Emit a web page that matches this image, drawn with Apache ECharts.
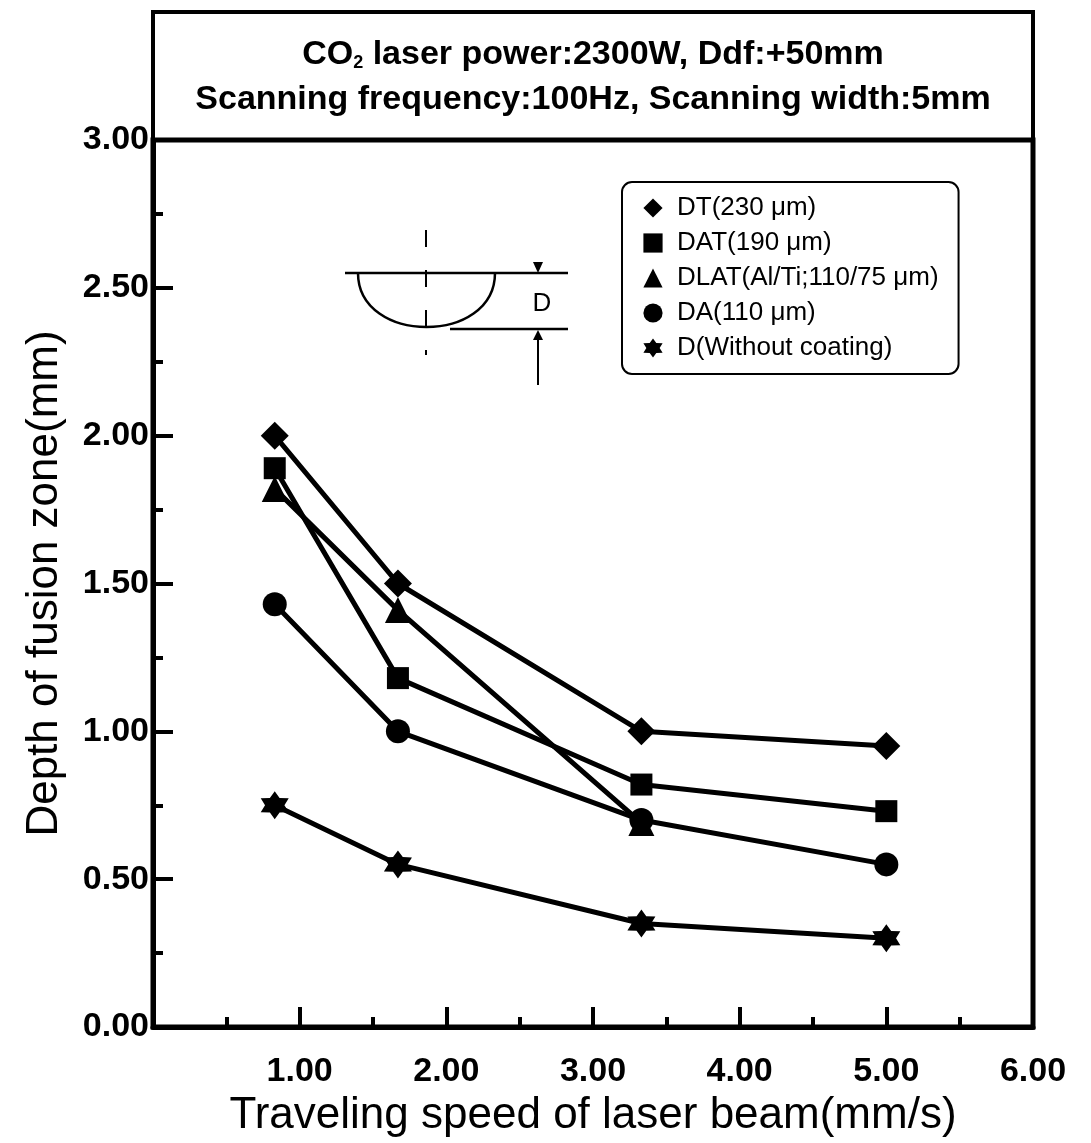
<!DOCTYPE html>
<html>
<head>
<meta charset="utf-8">
<script src="https://cdn.jsdelivr.net/npm/echarts@6/dist/echarts.min.js"></script>
<style>
html, body { margin: 0; padding: 0; background: #fff; }
#chart { width: 1091px; height: 1143px; }
</style>
</head>
<body>
<div id="chart"></div>
<script>
// 数据
var speeds = [0.83, 1.67, 3.33, 5.00];
var dtVals = [2.00, 1.50, 1.00, 0.95];
var datVals = [1.89, 1.18, 0.82, 0.73];
var dlatVals = [1.82, 1.41, 0.69];
var daVals = [1.43, 1.00, 0.70, 0.55];
var dVals = [0.75, 0.55, 0.35, 0.30];
var seriesNames = ['DT(230 μm)', 'DAT(190 μm)', 'DLAT(Al/Ti;110/75 μm)', 'DA(110 μm)', 'D(Without coating)'];
var titleLine1 = 'CO{s|2} laser power:2300W, Ddf:+50mm';
var titleLine2 = 'Scanning frequency:100Hz, Scanning width:5mm';

var FONT = '"Liberation Sans", Arial, sans-serif';
var starPath = 'path://M10,0 L13,4.8 L18.66,5 L16,10 L18.66,15 L13,15.2 L10,20 L7,15.2 L1.34,15 L4,10 L1.34,5 L7,4.8 Z';

function pairs(xs, ys) {
    return ys.map(function (y, i) { return [xs[i], y]; });
}

function makeSeries(name, vals, symbol, size) {
    return {
        name: name,
        type: 'line',
        data: pairs(speeds, vals),
        symbol: symbol,
        symbolSize: size,
        showAllSymbol: true,
        lineStyle: { color: '#000', width: 5 },
        itemStyle: { color: '#000' },
        emphasis: { disabled: true }
    };
}

var chart = echarts.init(document.getElementById('chart'));

var option = {
    backgroundColor: '#fff',
    animation: false,
    grid: {
        left: 153, right: 58, top: 140, bottom: 116,
        outerBoundsMode: 'none', containLabel: false,
        show: true, borderColor: '#000', borderWidth: 5
    },
    legend: {
        orient: 'vertical',
        left: 622, top: 182,
        padding: [13, 20, 13, 11],
        itemWidth: 38, itemHeight: 24, itemGap: 9,
        borderColor: '#000', borderWidth: 2, borderRadius: 10,
        lineStyle: { opacity: 0 },
        textStyle: { fontFamily: FONT, fontSize: 26, color: '#000' },
        data: seriesNames
    },
    xAxis: {
        type: 'value', min: 0, max: 6, interval: 1,
        name: 'Traveling speed of laser beam(mm/s)',
        nameLocation: 'middle', nameGap: 67,
        nameTextStyle: { fontFamily: FONT, fontSize: 44, color: '#000' },
        axisLine: { lineStyle: { color: '#000', width: 5 } },
        axisTick: { inside: true, length: 20, lineStyle: { color: '#000', width: 4 } },
        minorTick: { show: true, splitNumber: 2, length: 10, lineStyle: { color: '#000', width: 4 } },
        splitLine: { show: false },
        axisLabel: {
            margin: 28, fontFamily: FONT, fontSize: 34, fontWeight: 'bold', color: '#000',
            formatter: function (v) { return v === 0 ? '' : v.toFixed(2); }
        }
    },
    yAxis: {
        type: 'value', min: 0, max: 3, interval: 0.5,
        name: 'Depth of fusion zone(mm)',
        nameLocation: 'middle', nameGap: 86,
        nameTextStyle: { fontFamily: FONT, fontSize: 44, color: '#000' },
        axisLine: { lineStyle: { color: '#000', width: 5 } },
        axisTick: { inside: true, length: 20, lineStyle: { color: '#000', width: 4 } },
        minorTick: { show: true, splitNumber: 2, length: 10, lineStyle: { color: '#000', width: 4 } },
        splitLine: { show: false },
        axisLabel: {
            margin: 4, fontFamily: FONT, fontSize: 34, fontWeight: 'bold', color: '#000',
            formatter: function (v) { return v.toFixed(2); }
        }
    },
    series: [
        makeSeries(seriesNames[0], dtVals, 'diamond', 28),
        makeSeries(seriesNames[1], datVals, 'rect', 22),
        makeSeries(seriesNames[2], dlatVals, 'triangle', 26),
        makeSeries(seriesNames[3], daVals, 'circle', 24),
        makeSeries(seriesNames[4], dVals, starPath, 28)
    ],
    graphic: [
        // 标题框
        {
            type: 'rect', z: 10,
            shape: { x: 153, y: 12, width: 880, height: 128 },
            style: { fill: 'none', stroke: '#000', lineWidth: 4 }
        },
        {
            type: 'text', z: 10, x: 593, y: 55,
            style: {
                text: titleLine1, align: 'center', verticalAlign: 'middle',
                fontFamily: FONT, fontSize: 34, fontWeight: 'bold', fill: '#000',
                rich: { s: { fontFamily: FONT, fontSize: 18, fontWeight: 'bold', verticalAlign: 'bottom' } }
            }
        },
        {
            type: 'text', z: 10, x: 593, y: 100,
            style: {
                text: titleLine2, align: 'center', verticalAlign: 'middle',
                fontFamily: FONT, fontSize: 34, fontWeight: 'bold', fill: '#000'
            }
        },
        // 熔池示意图
        {
            type: 'line', z: 10,
            shape: { x1: 345, y1: 273, x2: 568, y2: 273 },
            style: { stroke: '#000', lineWidth: 2.5 }
        },
        {
            type: 'bezierCurve', z: 10,
            shape: { x1: 358, y1: 273, cpx1: 358, cpy1: 345, cpx2: 495, cpy2: 345, x2: 495, y2: 273 },
            style: { stroke: '#000', fill: 'none', lineWidth: 2.5 }
        },
        {
            type: 'line', z: 10,
            shape: { x1: 426, y1: 230, x2: 426, y2: 355 },
            style: { stroke: '#000', lineWidth: 2, lineDash: [17, 23] }
        },
        {
            type: 'line', z: 10,
            shape: { x1: 450, y1: 329, x2: 568, y2: 329 },
            style: { stroke: '#000', lineWidth: 2.5 }
        },
        {
            type: 'polygon', z: 10,
            shape: { points: [[533, 262], [543, 262], [538, 273]] },
            style: { fill: '#000' }
        },
        {
            type: 'polygon', z: 10,
            shape: { points: [[533, 340], [543, 340], [538, 330]] },
            style: { fill: '#000' }
        },
        {
            type: 'line', z: 10,
            shape: { x1: 538, y1: 340, x2: 538, y2: 385 },
            style: { stroke: '#000', lineWidth: 2 }
        },
        {
            type: 'text', z: 10, x: 542, y: 304,
            style: {
                text: 'D', align: 'center', verticalAlign: 'middle',
                fontFamily: FONT, fontSize: 26, fill: '#000'
            }
        }
    ]
};

chart.setOption(option);
</script>
</body>
</html>
